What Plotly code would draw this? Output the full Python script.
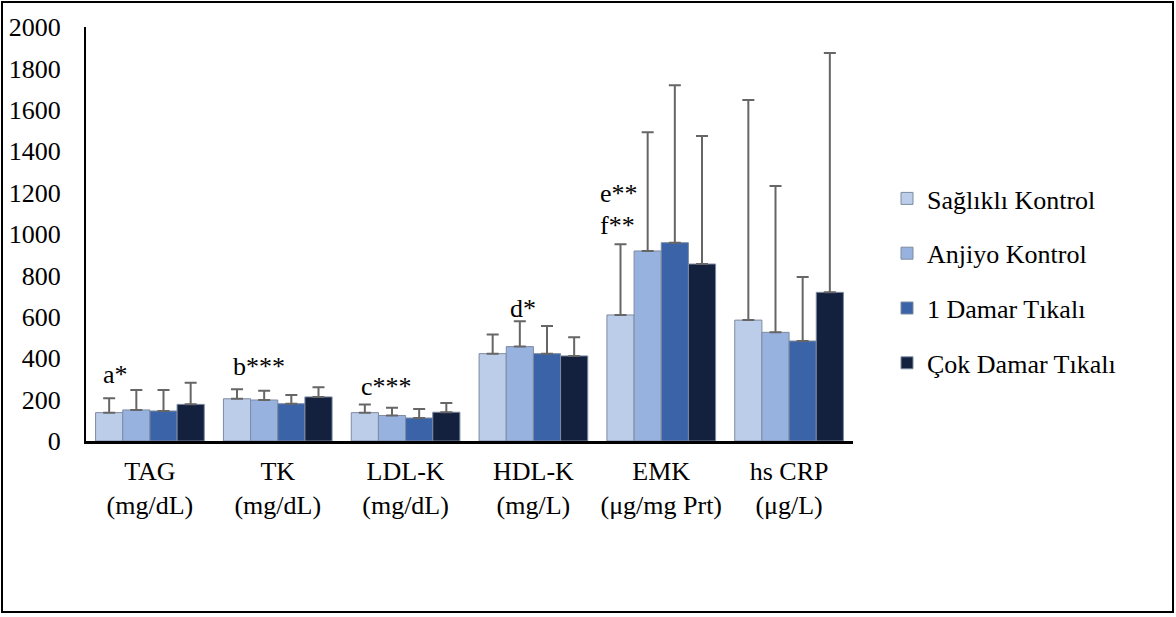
import plotly.graph_objects as go

categories = ["TAG<br>(mg/dL)", "TK<br>(mg/dL)", "LDL-K<br>(mg/dL)",
              "HDL-K<br>(mg/L)", "EMK<br>(μg/mg Prt)", "hs CRP<br>(μg/L)"]

series_names = ["Sağlıklı Kontrol", "Anjiyo Kontrol", "1 Damar Tıkalı", "Çok Damar Tıkalı"]

saglikli = [137, 204, 137, 422, 609, 584]
saglikli_sd = [69, 46, 39, 93, 341, 1063]
anjiyo = [150, 198, 123, 456, 918, 525]
anjiyo_sd = [96, 45, 38, 122, 573, 707]
bir_damar = [145, 180, 111, 422, 958, 483]
bir_damar_sd = [101, 42, 44, 133, 761, 309]
cok_damar = [177, 213, 139, 411, 855, 718]
cok_damar_sd = [105, 47, 45, 90, 618, 1156]

# annotations: (category index, text, y value, xshift px, anchor)
notes = [
    (0, "a*", 320, -34, "center"),
    (1, "b***", 362, -19, "center"),
    (2, "c***", 262, -19, "center"),
    (3, "d*", 642, -10, "center"),
    (4, "e**", 1198, -63, "left"),
    (4, "f**", 1043, -63, "left"),
]

colors = ["#bccde9", "#98b2e0", "#3a63a8", "#13213f"]
values = [saglikli, anjiyo, bir_damar, cok_damar]
sds = [saglikli_sd, anjiyo_sd, bir_damar_sd, cok_damar_sd]

FONT = "Liberation Serif, Times New Roman, serif"
FS = 26

fig = go.Figure()
for i, (name, v, sd, c) in enumerate(zip(series_names, values, sds, colors)):
    fig.add_trace(go.Bar(
        x=categories, y=v, name=name,
        marker=dict(color=c, line=dict(color="#7d8ba3", width=1)),
        error_y=dict(type="data", array=sd, symmetric=False, arrayminus=[0] * len(sd),
                     color="#666666", thickness=2, width=6),
        legendgroup=f"g{i}",
    ))

for ci, txt, yv, xs, anc in notes:
    fig.add_annotation(x=categories[ci], y=yv, xref="x", yref="y", text=txt,
                       showarrow=False, xshift=xs, xanchor=anc, yanchor="middle",
                       font=dict(family=FONT, size=FS, color="black"))

L, R, T, B = 86, 323, 27, 176
W, H = 1176, 617
pw, ph = W - L - R, H - T - B
fig.add_shape(type="rect", xref="paper", yref="paper",
              x0=(2 - L) / pw, x1=(1173 - L) / pw,
              y0=((H - B) - 612) / ph, y1=((H - B) - 2) / ph,
              line=dict(color="black", width=2), fillcolor="rgba(0,0,0,0)", layer="below")

fig.update_layout(
    width=W, height=H,
    margin=dict(l=L, r=R, t=T, b=B, pad=0, autoexpand=False),
    paper_bgcolor="white", plot_bgcolor="white",
    barmode="group", bargap=0.15, bargroupgap=0,
    font=dict(family=FONT, size=FS, color="black"),
    showlegend=True,
    legend=dict(x=(887 - L) / pw, xanchor="left", y=(441 - 281) / ph, yanchor="middle",
                traceorder="grouped", tracegroupgap=18, itemwidth=30,
                font=dict(family=FONT, size=FS, color="black"),
                bgcolor="rgba(0,0,0,0)"),
)
fig.update_yaxes(range=[0, 2000], dtick=200, showgrid=False, zeroline=False,
                 showline=True, linecolor="black", linewidth=2, ticks="", automargin=False,
                 ticklabelstandoff=18, tickfont=dict(family=FONT, size=FS))
fig.update_xaxes(showgrid=False, showline=True, linecolor="black", linewidth=3, automargin=False,
                 ticks="", ticklabelstandoff=5, tickfont=dict(family=FONT, size=FS))

fig.write_html("out.html")
